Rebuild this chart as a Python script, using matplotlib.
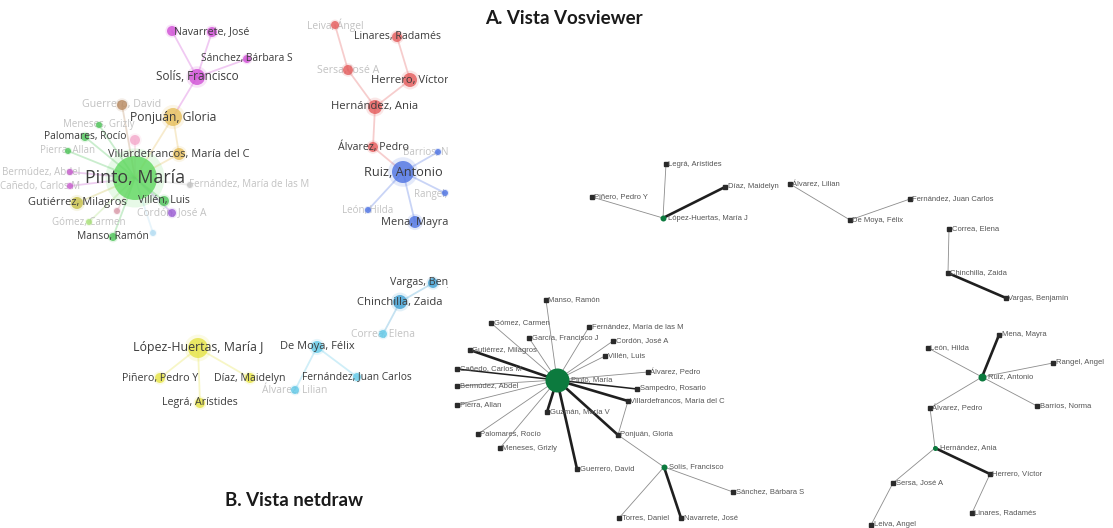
import matplotlib
matplotlib.use('Agg')
import matplotlib.pyplot as plt
from matplotlib.transforms import Bbox, TransformedBbox

# ---- A. VOSviewer view (layout positions) ----
vos_names = ['Navarrete, José', 'Torres, Daniel', 'Sánchez, Bárbara S', 'Solís, Francisco',
             'Guerrero, David', 'Ponjuán, Gloria', 'Meneses, Grizly', 'Palomares, Rocío',
             'Guzmán, María V', 'Pierra, Allan', 'Villardefrancos, María del C',
             'Bermúdez, Abdel', 'Cañedo, Carlos M', 'Pinto, María', 'Fernández, María de las M',
             'Villén, Luis', 'Gutiérrez, Milagros', 'Sampedro, Rosario', 'Cordón, José A',
             'Gómez, Carmen', 'Manso, Ramón', 'García, Francisco J',
             'Leiva, Ángel', 'Linares, Radamés', 'Sersa, José A', 'Herrero, Víctor',
             'Hernández, Ania', 'Álvarez, Pedro', 'Barrios, Norma', 'Ruiz, Antonio',
             'Rangel, Ángel', 'León, Hilda', 'Mena, Mayra',
             'Vargas, Benjamín', 'Chinchilla, Zaida', 'Correa, Elena', 'López-Huertas, María J',
             'De Moya, Félix', 'Piñero, Pedro Y', 'Díaz, Maidelyn', 'Fernández, Juan Carlos',
             'Álvarez, Lilian', 'Legrá, Arístides']
vos_x = [212, 172, 247, 197, 122, 173, 99, 85, 135, 68, 179, 70, 70, 135, 190, 164, 77, 117, 172,
         89, 113, 153, 335, 397, 348, 410, 375, 373, 438, 403, 445, 368, 415,
         433, 400, 383, 198, 317, 160, 250, 357, 295, 200]
vos_y = [32, 31, 59, 77, 105, 117, 125, 137, 140, 151, 154, 172, 186, 178, 185, 201, 203, 211, 213,
         222, 237, 233, 25, 37, 70, 80, 107, 147, 152, 172, 193, 210, 222,
         283, 302, 334, 348, 347, 378, 378, 377, 390, 403]
vos_weight = [5, 5, 4, 8, 5, 9, 3, 4, 5, 3, 6, 3, 3, 22, 3, 5, 6, 3, 4, 3, 4, 3,
              4, 5, 5, 7, 7, 5, 3, 11, 3, 3, 6,
              5, 7, 4, 10, 6, 5, 5, 4, 4, 5]
vos_cluster = ['purple', 'purple', 'purple', 'purple', 'brown', 'gold', 'green', 'green', 'pink',
               'green', 'gold', 'magenta', 'magenta', 'lime', 'grey', 'green', 'olive', 'rose',
               'violet', 'lightgreen', 'green', 'lightblue',
               'red', 'red', 'red', 'red', 'red', 'red', 'blue', 'blue', 'blue', 'blue', 'blue',
               'sky', 'sky', 'cyan', 'yellow', 'cyan', 'yellow', 'yellow', 'cyan', 'cyan', 'yellow']
# 0 = label hidden, 1 = faded label, 2 = full label
vos_label = [2, 0, 2, 2, 1, 2, 1, 2, 0, 1, 2, 1, 1, 2, 1, 2, 2, 0, 1, 1, 2, 0,
             1, 2, 1, 2, 2, 2, 1, 2, 1, 1, 2,
             2, 2, 1, 2, 2, 2, 2, 2, 1, 2]
vos_links = [('Navarrete, José', 'Solís, Francisco'), ('Torres, Daniel', 'Solís, Francisco'),
             ('Sánchez, Bárbara S', 'Solís, Francisco'), ('Solís, Francisco', 'Ponjuán, Gloria'),
             ('Ponjuán, Gloria', 'Pinto, María'), ('Ponjuán, Gloria', 'Villardefrancos, María del C'),
             ('Guerrero, David', 'Pinto, María'), ('Meneses, Grizly', 'Pinto, María'),
             ('Palomares, Rocío', 'Pinto, María'), ('Pierra, Allan', 'Pinto, María'),
             ('Guzmán, María V', 'Pinto, María'), ('Villardefrancos, María del C', 'Pinto, María'),
             ('Bermúdez, Abdel', 'Pinto, María'), ('Cañedo, Carlos M', 'Pinto, María'),
             ('Fernández, María de las M', 'Pinto, María'), ('Villén, Luis', 'Pinto, María'),
             ('Gutiérrez, Milagros', 'Pinto, María'), ('Sampedro, Rosario', 'Pinto, María'),
             ('Cordón, José A', 'Pinto, María'), ('Gómez, Carmen', 'Pinto, María'),
             ('Manso, Ramón', 'Pinto, María'), ('García, Francisco J', 'Pinto, María'),
             ('Leiva, Ángel', 'Sersa, José A'), ('Sersa, José A', 'Hernández, Ania'),
             ('Linares, Radamés', 'Herrero, Víctor'), ('Herrero, Víctor', 'Hernández, Ania'),
             ('Hernández, Ania', 'Álvarez, Pedro'), ('Álvarez, Pedro', 'Ruiz, Antonio'),
             ('Ruiz, Antonio', 'Barrios, Norma'), ('Ruiz, Antonio', 'Rangel, Ángel'),
             ('Ruiz, Antonio', 'León, Hilda'), ('Ruiz, Antonio', 'Mena, Mayra'),
             ('Vargas, Benjamín', 'Chinchilla, Zaida'), ('Chinchilla, Zaida', 'Correa, Elena'),
             ('De Moya, Félix', 'Fernández, Juan Carlos'), ('De Moya, Félix', 'Álvarez, Lilian'),
             ('López-Huertas, María J', 'Piñero, Pedro Y'), ('López-Huertas, María J', 'Díaz, Maidelyn'),
             ('López-Huertas, María J', 'Legrá, Arístides')]

cluster_colors = {'purple': '#d04fd6', 'brown': '#b98b62', 'gold': '#e6bf5c', 'green': '#4fc45a',
                  'pink': '#f4a9cb', 'magenta': '#c65ccc', 'lime': '#5fd85f', 'grey': '#c4c4c4',
                  'olive': '#c7c04a', 'rose': '#d99aa9', 'violet': '#9a5ad4', 'lightgreen': '#a9e07a',
                  'lightblue': '#b2dcf2', 'red': '#e45b5b', 'blue': '#4d72e2', 'sky': '#3f9fd2',
                  'cyan': '#62c9e8', 'yellow': '#e5e345'}
# labels pushed aside by the big "Pinto, María" label
label_side = {'Bermúdez, Abdel': ('right', 10), 'Cañedo, Carlos M': ('right', 10),
              'Fernández, María de las M': ('left', -1)}

# ---- B. NetDraw view ----
nd_names = ['Legrá, Arístides', 'Díaz, Maidelyn', 'Piñero, Pedro Y', 'López-Huertas, María J',
            'Álvarez, Lilian', 'De Moya, Félix', 'Fernández, Juan Carlos', 'Correa, Elena',
            'Chinchilla, Zaida', 'Vargas, Benjamín', 'Mena, Mayra', 'León, Hilda', 'Rangel, Angel',
            'Ruiz, Antonio', 'Barrios, Norma', 'Álvarez, Pedro', 'Hernández, Ania', 'Herrero, Víctor',
            'Sersa, José A', 'Linares, Radamés', 'Leiva, Angel',
            'Pinto, María', 'Manso, Ramón', 'Gómez, Carmen', 'Fernández, María de las M',
            'García, Francisco J', 'Cordón, José A', 'Gutiérrez, Milagros', 'Villén, Luis',
            'Cañedo, Carlos M', 'Álvarez, Pedro#2', 'Bermúdez, Abdel', 'Sampedro, Rosario',
            'Villardefrancos, María del C', 'Pierra, Allan', 'Guzmán, María V', 'Palomares, Rocío',
            'Ponjuán, Gloria', 'Meneses, Grizly', 'Guerrero, David', 'Solís, Francisco',
            'Sánchez, Bárbara S', 'Torres, Daniel', 'Navarrete, José']
nd_x = [666, 725, 592, 663, 790, 850, 910, 949, 948, 1006, 999, 928, 1053, 982, 1037, 930, 935, 990,
        893, 972, 871,
        557, 546, 491, 589, 529, 613, 470, 605, 457, 648, 457, 637, 628, 457, 547, 478, 618, 500,
        577, 664, 733, 619, 681]
nd_y = [164, 187, 197, 218, 184, 220, 199, 229, 273, 298, 335, 348, 363, 377, 406, 408, 448, 474,
        483, 513, 525,
        380, 300, 323, 327, 338, 341, 350, 356, 369, 372, 386, 389, 401, 405, 412, 434, 435, 448,
        469, 467, 492, 518, 518]
# node degree class: 0 = plain point, otherwise size of green disc
nd_weight = [0, 0, 0, 6, 0, 0, 0, 0, 0, 0, 0, 0, 0, 8, 0, 0, 5, 0, 0, 0, 0,
             24, 0, 0, 0, 0, 0, 0, 0, 0, 0, 0, 0, 0, 0, 0, 0, 0, 0, 0, 6, 0, 0, 0]
nd_ties = [('López-Huertas, María J', 'Legrá, Arístides', 1), ('López-Huertas, María J', 'Díaz, Maidelyn', 3),
           ('López-Huertas, María J', 'Piñero, Pedro Y', 1), ('Álvarez, Lilian', 'De Moya, Félix', 1),
           ('De Moya, Félix', 'Fernández, Juan Carlos', 1), ('Correa, Elena', 'Chinchilla, Zaida', 1),
           ('Chinchilla, Zaida', 'Vargas, Benjamín', 3), ('Ruiz, Antonio', 'Mena, Mayra', 3),
           ('Ruiz, Antonio', 'León, Hilda', 1), ('Ruiz, Antonio', 'Rangel, Angel', 1),
           ('Ruiz, Antonio', 'Barrios, Norma', 1), ('Ruiz, Antonio', 'Álvarez, Pedro', 1),
           ('Álvarez, Pedro', 'Hernández, Ania', 1), ('Hernández, Ania', 'Herrero, Víctor', 3),
           ('Hernández, Ania', 'Sersa, José A', 1), ('Herrero, Víctor', 'Linares, Radamés', 1),
           ('Sersa, José A', 'Leiva, Angel', 1),
           ('Pinto, María', 'Manso, Ramón', 1), ('Pinto, María', 'Gómez, Carmen', 1),
           ('Pinto, María', 'Fernández, María de las M', 1), ('Pinto, María', 'García, Francisco J', 1),
           ('Pinto, María', 'Cordón, José A', 1), ('Pinto, María', 'Gutiérrez, Milagros', 3),
           ('Pinto, María', 'Villén, Luis', 1), ('Pinto, María', 'Cañedo, Carlos M', 2),
           ('Pinto, María', 'Álvarez, Pedro#2', 1), ('Pinto, María', 'Bermúdez, Abdel', 1),
           ('Pinto, María', 'Sampedro, Rosario', 2), ('Pinto, María', 'Villardefrancos, María del C', 3),
           ('Pinto, María', 'Pierra, Allan', 1), ('Pinto, María', 'Guzmán, María V', 3),
           ('Pinto, María', 'Palomares, Rocío', 1), ('Pinto, María', 'Ponjuán, Gloria', 3),
           ('Pinto, María', 'Meneses, Grizly', 1), ('Pinto, María', 'Guerrero, David', 3),
           ('Villardefrancos, María del C', 'Ponjuán, Gloria', 1), ('Ponjuán, Gloria', 'Solís, Francisco', 1),
           ('Solís, Francisco', 'Sánchez, Bárbara S', 1), ('Solís, Francisco', 'Torres, Daniel', 1),
           ('Solís, Francisco', 'Navarrete, José', 3)]

fig = plt.figure(figsize=(11.13, 5.28), dpi=100)
ax = fig.add_axes([0, 0, 1, 1])
ax.set_xlim(0, 1113)
ax.set_ylim(528, 0)
ax.axis('off')

# clip region of the VOSviewer screenshot
vos_clip = TransformedBbox(Bbox([[0, 0], [448, 528]]), ax.transData)

vi = {n: i for i, n in enumerate(vos_names)}
for a, b in vos_links:
    i, j = vi[a], vi[b]
    ax.plot([vos_x[i], vos_x[j]], [vos_y[i], vos_y[j]], color=cluster_colors[vos_cluster[i]],
            lw=1.3, alpha=0.3, zorder=1, solid_capstyle='round')

cols = [cluster_colors[c] for c in vos_cluster]
sizes = [(2 * w * 0.72) ** 2 for w in vos_weight]
ax.scatter(vos_x, vos_y, s=[s * 1.8 for s in sizes], c=cols, alpha=0.15, lw=0, zorder=2)
ax.scatter(vos_x, vos_y, s=sizes, c=cols, alpha=0.8, lw=0, zorder=3)

for i, n in enumerate(vos_names):
    if vos_label[i] == 0:
        continue
    w = vos_weight[i]
    fs = (5.8 + 0.25 * w) * (1.13 if w > 15 else 1.08)
    if vos_label[i] == 2:
        col, z = '#3c3c3c', 4
    else:
        col, z = '#c2c2c2', 1.5
    ha, dx = label_side.get(n, ('center', 0))
    t = ax.text(vos_x[i] + dx, vos_y[i], n, ha=ha, va='center', fontsize=fs, color=col,
                family='Open Sans', zorder=z)
    t.set_clip_box(vos_clip)
    t.set_clip_on(True)

# NetDraw
ni = {n: i for i, n in enumerate(nd_names)}
for a, b, w in nd_ties:
    i, j = ni[a], ni[b]
    lw = {1: 0.6, 2: 1.1, 3: 1.9}[w]
    col = '#8c8c8c' if w == 1 else '#1f1f1f'
    ax.plot([nd_x[i], nd_x[j]], [nd_y[i], nd_y[j]], color=col, lw=lw, zorder=1)

for i, n in enumerate(nd_names):
    w = nd_weight[i]
    if w:
        ax.scatter(nd_x[i], nd_y[i], s=(w * 0.72) ** 2, c='#0c7a3e', lw=0, zorder=3)
        off = w / 2 + 2
    else:
        ax.plot(nd_x[i], nd_y[i], marker='s', ms=2.2, color='#2a2a2a', lw=0, zorder=3)
        off = 2.5
    ax.text(nd_x[i] + off, nd_y[i], n.split('#')[0], ha='left', va='center', fontsize=5.5,
            color='#555555', family='Liberation Sans', zorder=4)

ax.text(485, 18, 'A. Vista Vosviewer', fontsize=13.5, fontweight='bold', family='Lato',
        color='#1a1a1a', va='center', ha='left')
ax.text(225, 500, 'B. Vista netdraw', fontsize=13.5, fontweight='bold', family='Lato',
        color='#1a1a1a', va='center', ha='left')

fig.savefig('out.png', dpi=100)
